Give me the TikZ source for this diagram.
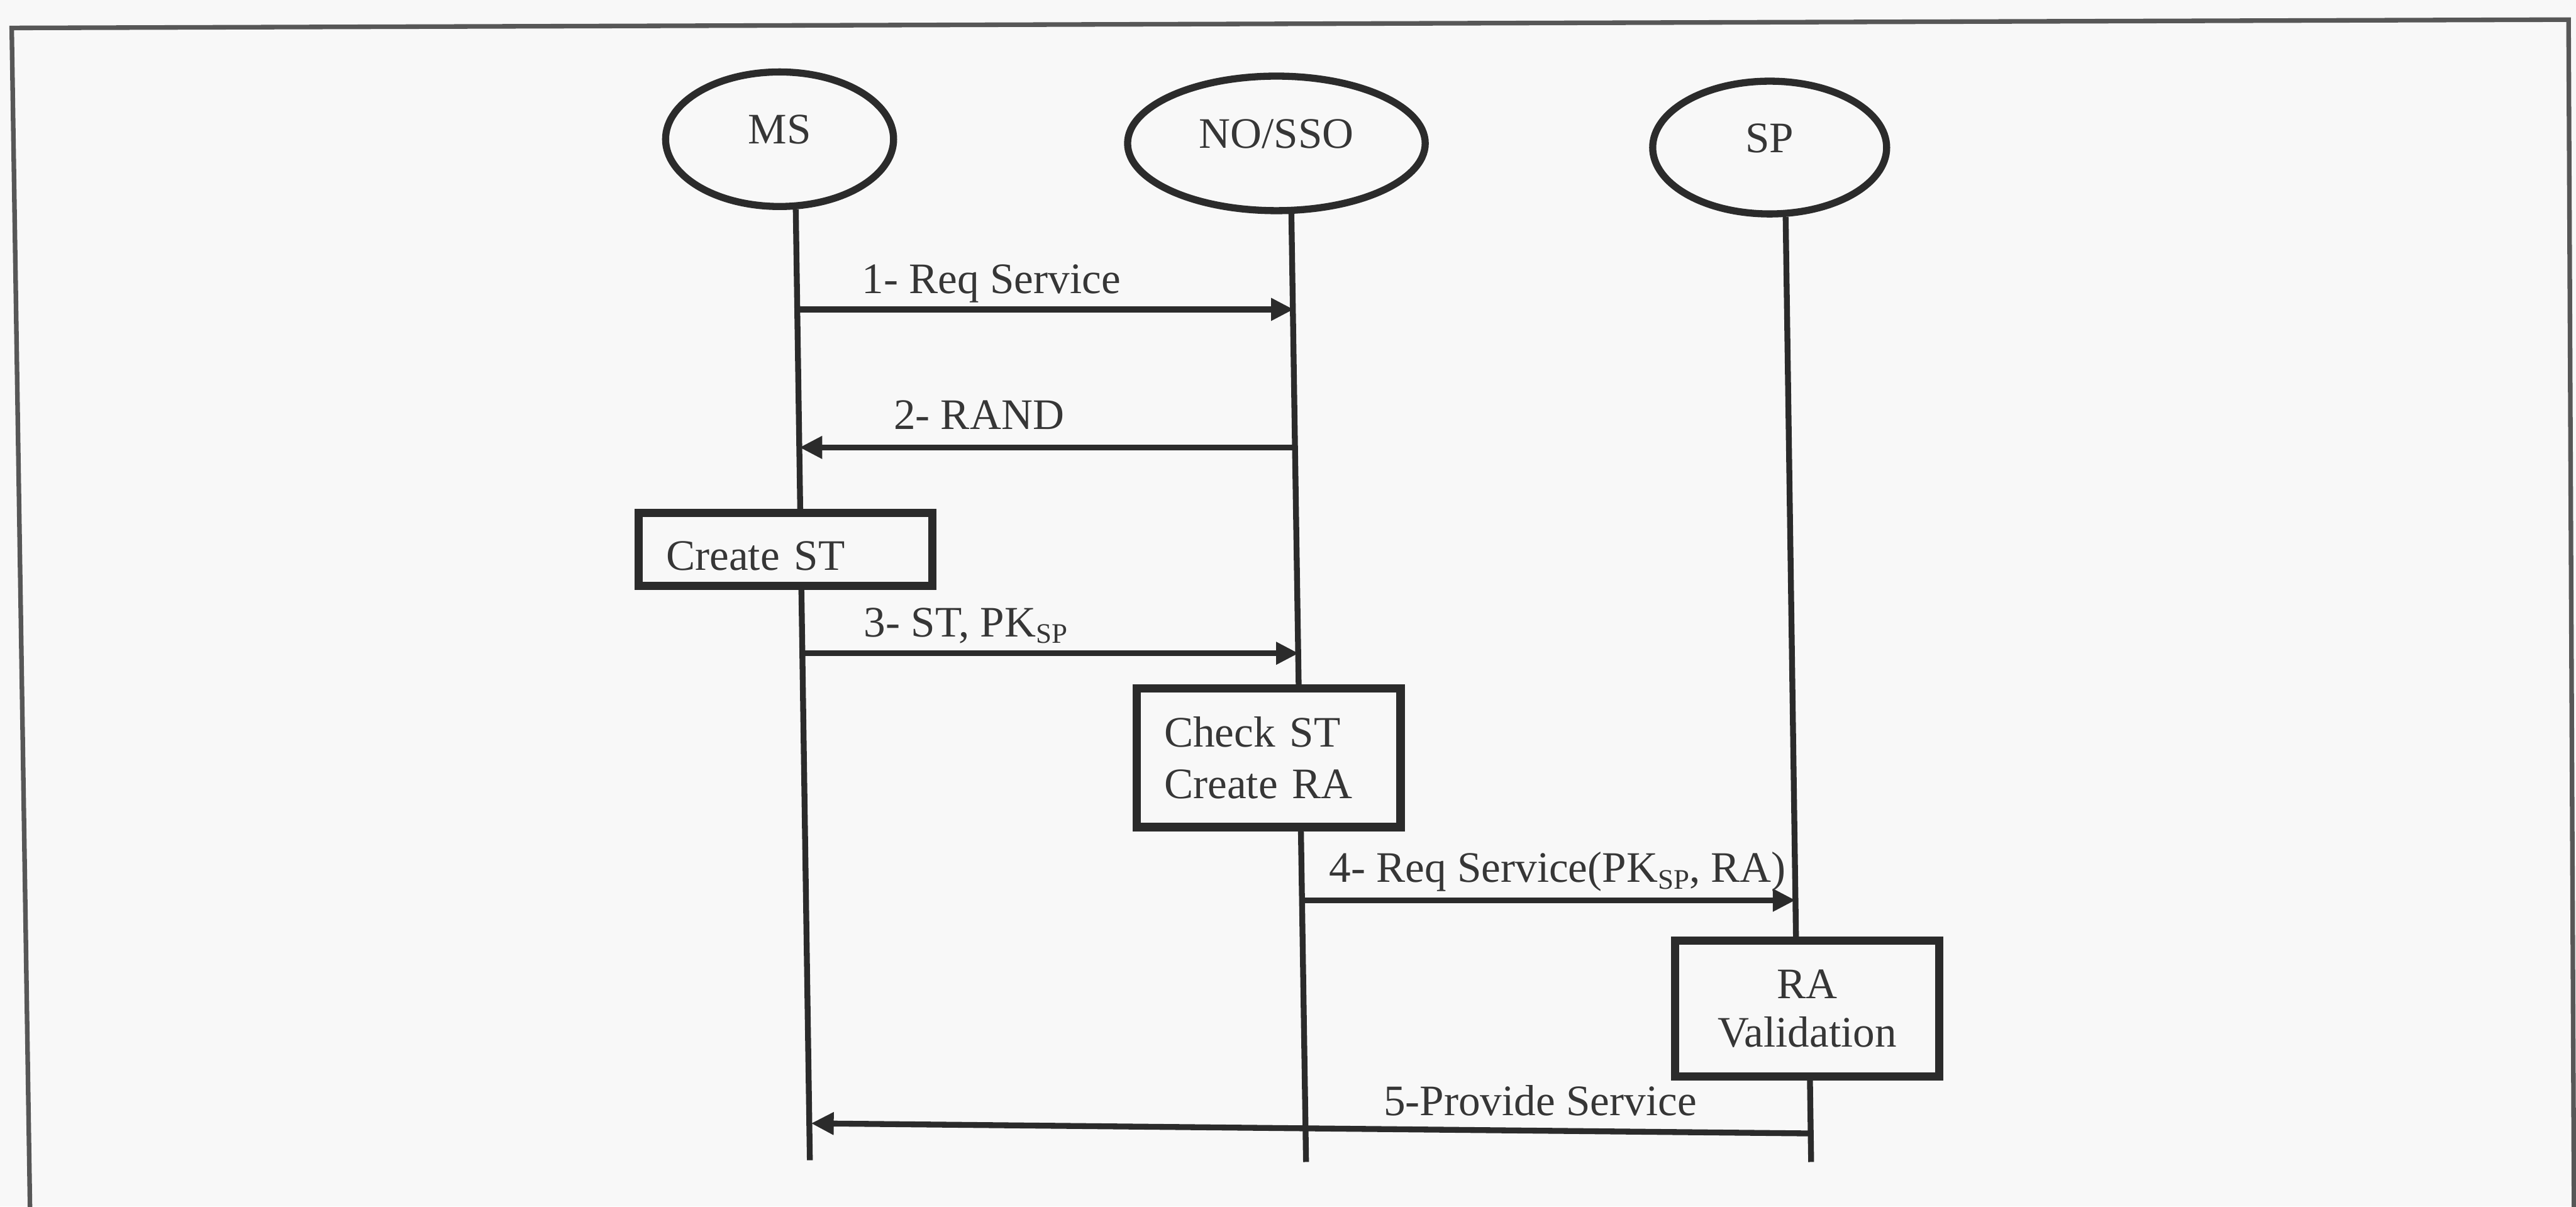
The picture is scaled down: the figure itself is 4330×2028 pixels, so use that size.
\documentclass[tikz,border=0pt]{standalone}
\usepackage{fontspec}
\setmainfont{Liberation Serif}
\usetikzlibrary{arrows.meta,shapes.geometric}
\definecolor{ink}{HTML}{2B2B2B}
\definecolor{txt}{HTML}{363636}
\definecolor{paper}{HTML}{F8F8F8}
\definecolor{framec}{HTML}{575757}
\newcommand\dgfont{\fontsize{20.8pt}{24.8pt}\selectfont}
\newcommand\dgfontA{\fontsize{20.8pt}{24.75pt}\selectfont}
\newcommand\dgfontB{\fontsize{20.8pt}{23.05pt}\selectfont}
\newcommand\subsp{\raisebox{-0.15em}{\fontsize{13.5pt}{13.5pt}\selectfont SP}}
\begin{document}
\begin{tikzpicture}[x=0.01cm, y=-0.01cm,
  actor/.style={ellipse, draw=ink, line width=3.4pt, inner sep=0pt, text=txt,
    font=\dgfont, text height=0.48cm, text depth=0.32cm},
  life/.style={draw=ink, line width=2.8pt},
  msg/.style={draw=ink, line width=2.8pt, -{Triangle[length=0.38cm,width=0.36cm]}},
  stepbox/.style={rectangle, draw=ink, line width=4pt, fill=paper, inner sep=0pt,
    inner xsep=0.46cm, text=txt, font=\dgfont},
  lab/.style={inner sep=0pt, text=txt, font=\dgfont, anchor=base west},
  frameline/.style={draw=framec, line width=2.2pt}
]
\fill[paper] (0,0) rectangle (4330,2028);
\useasboundingbox (0,0) rectangle (4330,2028);
\begin{scope}[xslant=-0.0145]
  % frame
  \coordinate (fbl) at (21,2045);
  \coordinate (ftl) at (19,47);
  \coordinate (ftr) at (4317,33);
  \coordinate (fbr) at (4297,2045);
  \draw[frameline] (fbl) -- (ftl) -- (ftr) -- (fbr);

  % actors
  \node[actor, minimum width=3.83cm, minimum height=2.26cm] (ms) at (1307,234) {MS};
  \node[actor, minimum width=5.00cm, minimum height=2.26cm] (nosso) at (2142,241) {NO/SSO};
  \node[actor, minimum width=3.93cm, minimum height=2.23cm] (sp) at (2971,248) {SP};

  % lifeline ends
  \coordinate (msend) at (1333,1950);
  \coordinate (noend) at (2167,1953);
  \coordinate (sptopend) at (2996,1620);
  \coordinate (spbotstart) at (3016,1780);
  \coordinate (spend) at (3016,1953);

  \draw[life] (ms.283) -- (msend);
  \draw[life] (nosso.282) -- (noend);
  \draw[life] (sp.283) -- (sptopend);
  \draw[life] (spbotstart) -- (spend);

  % activity boxes
  \node[stepbox, minimum width=4.93cm, minimum height=1.23cm, text width=4.01cm,
    align=left, text height=0.69cm, text depth=0cm] (create) at (1307,923.5) {Create ST};
  \node[stepbox, minimum width=4.43cm, minimum height=2.33cm, text width=3.51cm,
    align=left, font=\dgfontA] (check) at (2114,1273.5) {Check ST\\Create RA};
  \node[stepbox, minimum width=4.44cm, minimum height=2.28cm, text width=3.52cm,
    align=center, font=\dgfontB] (ravalid) at (3013,1695) {RA\\Validation};

  % message end points
  \coordinate (m1a) at (1333,520);  \coordinate (m1b) at (2167,520);
  \coordinate (m2a) at (2167,752);  \coordinate (m2b) at (1333,752);
  \coordinate (m3a) at (1333,1098); \coordinate (m3b) at (2167,1098);
  \coordinate (m4a) at (2167,1513); \coordinate (m4b) at (2996,1513);
  \coordinate (m5a) at (3016,1905); \coordinate (m5b) at (1336,1888);

  \draw[msg] (m1a) -- (m1b);
  \draw[msg] (m2a) -- (m2b);
  \draw[msg] (m3a) -- (m3b);
  \draw[msg] (m4a) -- (m4b);
  \draw[msg] (m5a) -- (m5b);

  % message labels
  \node[lab] (t1) at (1441,493) {1- Req Service};
  \node[lab] (t2) at (1491,722) {2- RAND};
  \node[lab] (t3) at (1436,1070) {3- ST, PK\subsp};
  \node[lab] (t4) at (2212,1483) {4- Req Service(PK\subsp, RA)};
  \node[lab] (t5) at (2298,1875) {5-Provide Service};
\end{scope}
\end{tikzpicture}
\end{document}
